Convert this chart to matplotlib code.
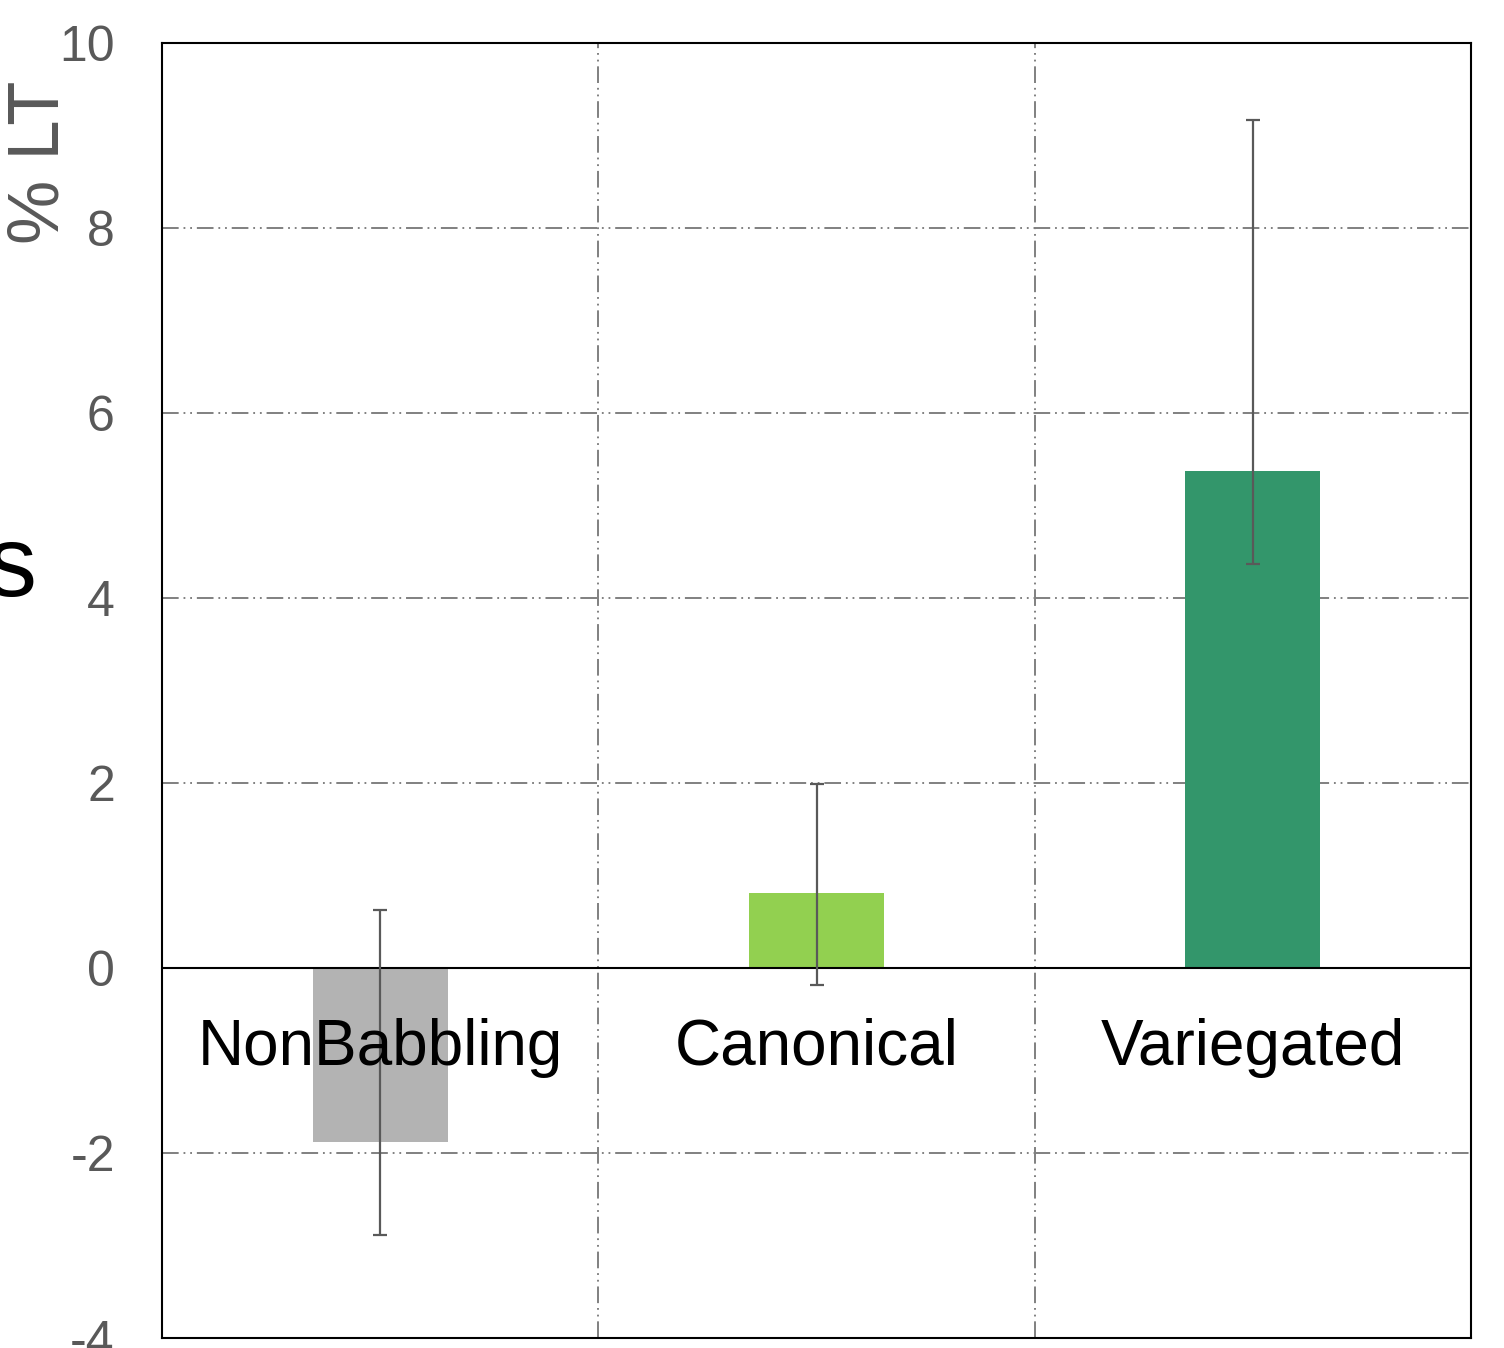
import matplotlib
matplotlib.use("Agg")
import matplotlib.pyplot as plt

plt.rcParams['font.family'] = ['Liberation Sans', 'DejaVu Sans']
plt.rcParams['lines.scale_dashes'] = False

categories = ["NonBabbling", "Canonical", "Variegated"]
values = [-1.88, 0.81, 5.37]
err_low = [1.01, 0.99, 1.00]
err_high = [2.51, 1.18, 3.80]
colors = ["#B3B3B3", "#92D050", "#33966B"]
yticks = [-4, -2, 0, 2, 4, 6, 8, 10]

W, H = 1504, 1348
fig = plt.figure(figsize=(W/100, H/100), dpi=100)
ax = fig.add_axes([162/W, 1-1338/H, (1471-162)/W, (1338-43)/H])

dash = (0, (12, 3.5, 1.3, 3.5, 1.3, 3.5))
for y in [-2, 2, 4, 6, 8]:
    ax.axhline(y, color="#808080", lw=1.4, linestyle=dash, zorder=1)
for x in [0.5, 1.5]:
    ax.axvline(x, color="#808080", lw=1.4, linestyle=dash, zorder=1)

xs = list(range(len(categories)))
ax.bar(xs, values, width=0.31, color=colors, zorder=2)
ax.errorbar(xs, values, yerr=[err_low, err_high], fmt='none', ecolor="#595959",
            elinewidth=1.6, capsize=4.7, capthick=1.6, zorder=4)
ax.axhline(0, color="black", lw=1.5, zorder=3)

for x, c in zip(xs, categories):
    ax.text(x, -0.86, c, ha='center', va='center', fontsize=46, color='black', zorder=5)

ax.set_xlim(-0.5, 2.5)
ax.set_ylim(-4, 10)
ax.set_yticks(yticks)
ax.set_yticklabels([str(t) for t in yticks])
ax.set_xticks([])
ax.tick_params(axis='y', length=0, pad=34, labelsize=36, labelcolor="#595959")
for s in ax.spines.values():
    s.set_linewidth(1.5)
    s.set_color('black')

fig.text(40/W, 1-162/H, "% LT", rotation=90, ha='center', va='center',
         fontsize=52, color="#595959")
fig.text(36/W, 1-570/H, "s", ha='right', va='center', fontsize=72, color='black')

fig.savefig("out.png", dpi=100)
